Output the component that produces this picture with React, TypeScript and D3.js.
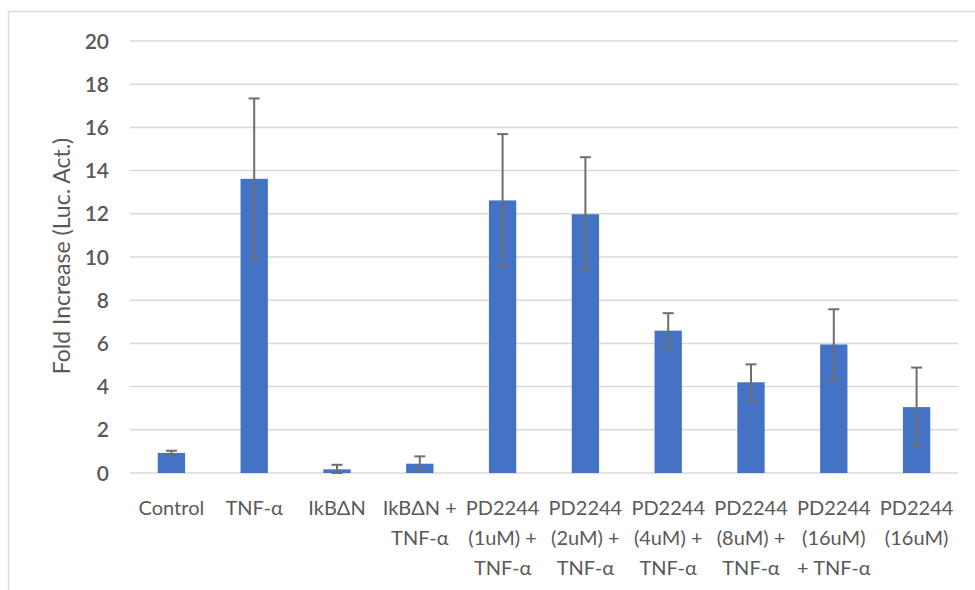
import React, { useEffect, useRef } from 'react'
import * as d3 from 'd3'

// values
const categories = [
  ['Control'],
  ['TNF-α'],
  ['IkBΔN'],
  ['IkBΔN +', 'TNF-α'],
  ['PD2244', '(1uM) +', 'TNF-α'],
  ['PD2244', '(2uM) +', 'TNF-α'],
  ['PD2244', '(4uM) +', 'TNF-α'],
  ['PD2244', '(8uM) +', 'TNF-α'],
  ['PD2244', '(16uM)', '+ TNF-α'],
  ['PD2244', '(16uM)']
]
const values = [0.93, 13.62, 0.17, 0.43, 12.62, 11.98, 6.59, 4.2, 5.95, 3.05]
const errors = [0.1, 3.72, 0.21, 0.34, 3.07, 2.64, 0.81, 0.83, 1.63, 1.83]
const yTicks = [0, 2, 4, 6, 8, 10, 12, 14, 16, 18, 20]

const width = 975
const height = 590
const margin = { top: 41, right: 17, bottom: 117, left: 130 }
const font = 'Lato, "Open Sans", sans-serif'
const textColor = '#595959'

export default function App() {
  const ref = useRef<SVGSVGElement>(null)

  useEffect(() => {
    const svg = d3.select(ref.current)
    svg.selectAll('*').remove()

    const keys = categories.map((c, i) => String(i))
    const x = d3.scaleBand()
      .domain(keys)
      .range([margin.left, width - margin.right])
      .paddingInner(0.67)
      .paddingOuter(0.335)
    const y = d3.scaleLinear()
      .domain([0, 20])
      .range([height - margin.bottom, margin.top])

    // chart frame
    svg.append('rect')
      .attr('x', 8.5)
      .attr('y', 11.5)
      .attr('width', 1000)
      .attr('height', 600)
      .attr('fill', 'none')
      .attr('stroke', '#d9d9d9')
      .attr('stroke-width', 1.5)

    // gridlines
    svg.append('g')
      .selectAll('line')
      .data(yTicks).enter()
      .append('line')
        .attr('x1', margin.left)
        .attr('x2', width - margin.right)
        .attr('y1', d => y(d))
        .attr('y2', d => y(d))
        .attr('stroke', '#d9d9d9')
        .attr('stroke-width', 1.5)

    // y tick labels
    svg.append('g')
      .selectAll('text')
      .data(yTicks).enter()
      .append('text')
        .attr('x', 109)
        .attr('y', d => y(d))
        .attr('dy', '0.36em')
        .attr('text-anchor', 'end')
        .attr('font-family', font)
        .attr('font-size', 21)
        .attr('font-weight', 600)
        .attr('fill', textColor)
        .text(d => d)

    // y axis title
    svg.append('text')
      .attr('transform', 'translate(70,256) rotate(-90)')
      .attr('text-anchor', 'middle')
      .attr('font-family', font)
      .attr('font-size', 23)
      .attr('fill', textColor)
      .text('Fold Increase (Luc. Act.)')

    // bars
    svg.append('g')
      .selectAll('rect')
      .data(values).enter()
      .append('rect')
        .attr('x', (d, i) => x(keys[i])!)
        .attr('width', x.bandwidth())
        .attr('y', d => y(d))
        .attr('height', d => y(0) - y(d))
        .attr('fill', '#4472c4')

    // error bars
    const eb = svg.append('g')
      .attr('stroke', '#6e6e6e')
      .attr('stroke-width', 2)
    values.forEach((v, i) => {
      const cx = x(keys[i])! + x.bandwidth() / 2
      const lo = Math.max(0, v - errors[i])
      const hi = v + errors[i]
      eb.append('line').attr('x1', cx).attr('x2', cx).attr('y1', y(lo)).attr('y2', y(hi))
      eb.append('line').attr('x1', cx - 5.5).attr('x2', cx + 5.5).attr('y1', y(hi)).attr('y2', y(hi))
      eb.append('line').attr('x1', cx - 5.5).attr('x2', cx + 5.5).attr('y1', y(lo)).attr('y2', y(lo))
    })

    // category labels
    const lab = svg.append('g')
      .attr('font-family', font)
      .attr('font-size', 20)
      .attr('fill', textColor)
      .attr('text-anchor', 'middle')
    categories.forEach((lines, i) => {
      const cx = x(keys[i])! + x.bandwidth() / 2
      lines.forEach((t, j) => {
        lab.append('text')
          .attr('x', cx)
          .attr('y', 508 + j * 30)
          .attr('dy', '0.35em')
          .text(t)
      })
    })
  }, [])

  return (
    <svg
      ref={ref}
      width={width}
      height={height}
      style={{ position: 'absolute', left: 0, top: 0, background: '#fff' }}
    />
  )
}
